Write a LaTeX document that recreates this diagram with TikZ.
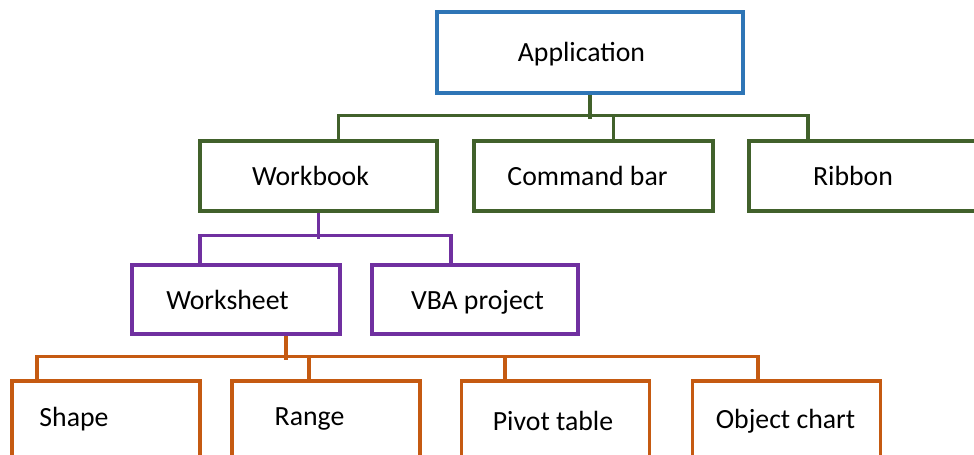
\documentclass[tikz,border=0pt]{standalone}
\usepackage{fontspec}
\setmainfont{Carlito}
\usetikzlibrary{calc}
\definecolor{AppBlue}{HTML}{2E75B6}
\definecolor{BookGreen}{HTML}{41612B}
\definecolor{SheetPurple}{HTML}{7030A0}
\definecolor{ObjOrange}{HTML}{C55A11}

\begin{document}
\begin{tikzpicture}[x=0.02cm,y=-0.02cm,
  box/.style={draw,rectangle,line width=1.9pt,inner sep=0pt},
  txt/.style={font=\fontsize{15.8}{19}\selectfont,text=black},
  gline/.style={BookGreen,line width=1.9pt},
  pline/.style={SheetPurple,line width=1.9pt},
  oline/.style={ObjOrange,line width=1.9pt}]
\useasboundingbox (0,0) rectangle (974,455);
\clip (0,0) rectangle (974,455);
% top level
\node[box,draw=AppBlue,minimum width=6.12cm,minimum height=1.62cm,
  label={[txt,name=app-t,xshift=-0.17cm,yshift=-0.03cm]center:Application}] (app) at (590,52.5) {};
% second row
\node[box,draw=BookGreen,minimum width=4.74cm,minimum height=1.40cm,
  label={[txt,name=wb-t,xshift=-0.16cm]center:Workbook}] (wb) at (318.5,176) {};
\node[box,draw=BookGreen,minimum width=4.78cm,minimum height=1.40cm,
  label={[txt,name=cb-t,xshift=-0.12cm]center:Command bar}] (cb) at (593.5,176) {};
\node[box,draw=BookGreen,minimum width=4.76cm,minimum height=1.40cm,
  label={[txt,name=rib-t,xshift=-0.30cm]center:Ribbon}] (rib) at (868,176) {};
% third row
\node[box,draw=SheetPurple,minimum width=4.16cm,minimum height=1.38cm,
  label={[txt,name=ws-t,xshift=-0.17cm]center:Worksheet}] (ws) at (236,299.5) {};
\node[box,draw=SheetPurple,minimum width=4.12cm,minimum height=1.38cm,
  label={[txt,name=vba-t,xshift=0.05cm,yshift=-0.05cm]center:VBA project}] (vba) at (475,299.5) {};
% bottom row
\node[box,draw=ObjOrange,minimum width=3.76cm,minimum height=2cm,
  label={[txt,name=shape-t,xshift=-0.64cm,yshift=0.24cm]center:Shape}] (shape) at (106,431) {};
\node[box,draw=ObjOrange,minimum width=3.76cm,minimum height=2cm,
  label={[txt,name=range-t,xshift=-0.33cm,yshift=0.24cm]center:Range}] (range) at (326,431) {};
\node[box,draw=ObjOrange,minimum width=3.76cm,minimum height=2cm,
  label={[txt,name=pivot-t,xshift=-0.05cm,yshift=0.20cm]center:Pivot table}] (pivot) at (555.5,431) {};
\node[box,draw=ObjOrange,minimum width=3.76cm,minimum height=2cm,
  label={[txt,name=obj-t,xshift=-0.02cm,yshift=0.20cm]center:Object chart}] (obj) at (786.5,431) {};
% connectors
\draw[gline] (app.south) -- ++(0,24) coordinate (gmid);
\draw[gline] ($(wb.north)+(20,0)$) -- ++(0,-24) -| ($(rib.north)+(-60,0)$);
\draw[gline] ($(cb.north)+(20,0)$) -- ++(0,-24);
\draw[pline] (wb.south) -- ++(0,26) coordinate (pmid);
\draw[pline] ($(ws.north)+(-36,0)$) -- ++(0,-28) -| ($(vba.north)+(-24,0)$);
\draw[oline] ($(ws.south)+(50,0)$) -- ++(0,24) coordinate (omid);
\draw[oline] ($(shape.north)+(-69,0)$) -- ++(0,-23) -| ($(obj.north)+(-28.5,0)$);
\draw[oline] ($(range.north)+(-17,0)$) -- ++(0,-23);
\draw[oline] ($(pivot.north)+(-50.5,0)$) -- ++(0,-23);
\end{tikzpicture}
\end{document}
